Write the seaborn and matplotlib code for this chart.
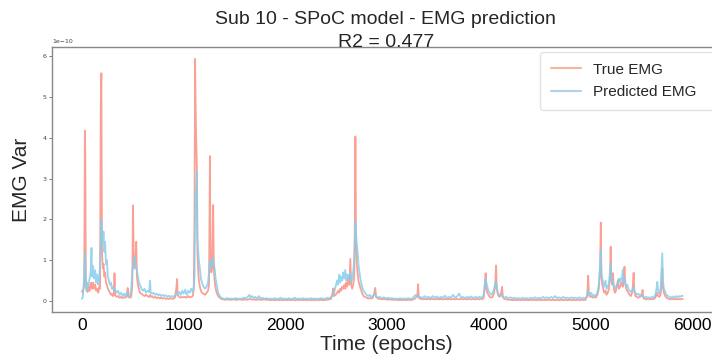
import numpy as np
import pandas as pd
import seaborn as sns
import matplotlib.pyplot as plt
from matplotlib.lines import Line2D

# --- DATA (valeurs en 1e-10) ---
epochs = [
    0, 8, 15, 22, 29, 33, 38, 45, 55, 65, 75, 85, 94, 100, 110, 120, 130, 140, 150, 160,
    170, 178, 185, 191, 197, 205, 212, 220, 228, 236, 245, 255, 265, 275, 285, 295, 305, 314, 320, 326,
    340, 355, 370, 385, 400, 415, 430, 443, 450, 457, 470, 485, 495, 502, 508, 515, 520, 527, 534, 540,
    550, 560, 570, 585, 600, 615, 630, 645, 660, 670, 676, 690, 705, 720, 735, 750, 765, 780, 795, 810,
    825, 840, 855, 870, 885, 900, 915, 928, 935, 942, 955, 970, 985, 1000, 1015, 1030, 1045, 1060, 1075, 1090,
    1100, 1107, 1113, 1118, 1123, 1130, 1136, 1142, 1150, 1160, 1170, 1180, 1195, 1210, 1225, 1240, 1250, 1259, 1265, 1272,
    1280, 1291, 1297, 1305, 1315, 1325, 1340, 1355, 1370, 1390, 1410, 1430, 1450, 1470, 1490, 1510, 1530, 1550, 1570, 1590,
    1610, 1630, 1647, 1660, 1675, 1690, 1705, 1720, 1740, 1755, 1775, 1795, 1815, 1835, 1855, 1875, 1895, 1915, 1935, 1955,
    1975, 1995, 2015, 2035, 2055, 2075, 2095, 2115, 2135, 2155, 2175, 2195, 2215, 2235, 2255, 2275, 2295, 2315, 2335, 2355,
    2375, 2395, 2415, 2435, 2450, 2465, 2472, 2480, 2495, 2510, 2520, 2530, 2540, 2550, 2560, 2570, 2580, 2590, 2600, 2610,
    2620, 2630, 2640, 2648, 2658, 2668, 2678, 2685, 2690, 2696, 2703, 2712, 2720, 2730, 2742, 2755, 2770, 2785, 2800, 2815,
    2830, 2845, 2860, 2872, 2885, 2893, 2910, 2930, 2950, 2970, 2990, 3010, 3030, 3050, 3070, 3090, 3110, 3130, 3150, 3170,
    3190, 3210, 3230, 3250, 3270, 3285, 3300, 3307, 3314, 3330, 3350, 3370, 3390, 3410, 3430, 3450, 3470, 3490, 3510, 3530,
    3550, 3570, 3590, 3610, 3630, 3650, 3670, 3690, 3710, 3730, 3750, 3770, 3790, 3810, 3830, 3850, 3870, 3890, 3910, 3930,
    3950, 3962, 3971, 3978, 3988, 3998, 4010, 4025, 4040, 4055, 4066, 4074, 4080, 4092, 4105, 4120, 4133, 4140, 4155, 4175,
    4195, 4215, 4235, 4255, 4275, 4295, 4315, 4335, 4355, 4375, 4395, 4415, 4435, 4455, 4475, 4495, 4515, 4535, 4555, 4575,
    4595, 4615, 4635, 4655, 4675, 4695, 4715, 4735, 4755, 4775, 4795, 4815, 4835, 4855, 4875, 4895, 4915, 4935, 4955, 4970,
    4980, 4987, 4998, 5010, 5025, 5040, 5055, 5070, 5085, 5097, 5104, 5110, 5118, 5128, 5138, 5150, 5160, 5172, 5185, 5194,
    5201, 5208, 5216, 5223, 5232, 5242, 5252, 5262, 5272, 5282, 5292, 5300, 5310, 5320, 5328, 5337, 5345, 5355, 5365, 5375,
    5388, 5400, 5412, 5420, 5427, 5434, 5445, 5458, 5472, 5486, 5500, 5508, 5515, 5522, 5535, 5550, 5565, 5580, 5595, 5610,
    5625, 5640, 5652, 5660, 5668, 5680, 5692, 5702, 5709, 5715, 5725, 5738, 5750, 5765, 5780, 5795, 5810, 5825, 5840, 5855,
    5870, 5885, 5900, 5910,
]

true_emg = [
    0.25, 0.20, 0.30, 0.35, 4.17, 3.55, 0.60, 0.30, 0.22, 0.35, 0.25, 0.40, 0.45, 0.30, 0.45, 0.30, 0.40, 0.25, 0.30, 0.20,
    0.35, 0.30, 4.80, 5.58, 1.20, 0.80, 0.90, 0.60, 0.70, 0.45, 0.40, 0.30, 0.25, 0.20, 0.15, 0.18, 0.12, 0.15, 0.68, 0.15,
    0.10, 0.12, 0.08, 0.10, 0.07, 0.09, 0.08, 0.15, 0.32, 0.10, 0.08, 0.10, 0.40, 2.34, 1.30, 0.80, 1.10, 0.90, 1.45, 0.60,
    0.40, 0.30, 0.20, 0.18, 0.15, 0.12, 0.15, 0.12, 0.10, 0.15, 0.10, 0.12, 0.08, 0.10, 0.07, 0.09, 0.06, 0.08, 0.06, 0.07,
    0.05, 0.06, 0.05, 0.07, 0.05, 0.06, 0.08, 0.30, 0.54, 0.15, 0.10, 0.08, 0.10, 0.09, 0.10, 0.08, 0.12, 0.09, 0.10, 0.12,
    0.30, 2.00, 5.93, 4.80, 4.03, 3.30, 1.20, 0.80, 0.50, 0.35, 0.25, 0.20, 0.18, 0.15, 0.20, 0.25, 0.40, 3.55, 1.00, 0.70,
    0.80, 2.35, 0.80, 0.50, 0.30, 0.20, 0.12, 0.08, 0.05, 0.04, 0.03, 0.04, 0.03, 0.03, 0.04, 0.03, 0.03, 0.04, 0.03, 0.03,
    0.04, 0.03, 0.05, 0.04, 0.03, 0.04, 0.03, 0.03, 0.04, 0.03, 0.03, 0.04, 0.03, 0.03, 0.02, 0.03, 0.02, 0.03, 0.02, 0.03,
    0.02, 0.03, 0.02, 0.03, 0.02, 0.03, 0.02, 0.03, 0.02, 0.03, 0.02, 0.03, 0.02, 0.03, 0.02, 0.03, 0.02, 0.03, 0.02, 0.03,
    0.02, 0.03, 0.03, 0.04, 0.05, 0.20, 0.31, 0.12, 0.15, 0.20, 0.25, 0.20, 0.30, 0.25, 0.35, 0.30, 0.40, 0.30, 0.45, 0.35,
    0.60, 0.40, 1.03, 0.40, 0.30, 0.40, 0.60, 2.00, 4.03, 1.50, 0.90, 0.70, 0.50, 0.40, 0.30, 0.20, 0.12, 0.10, 0.08, 0.06,
    0.07, 0.06, 0.08, 0.15, 0.32, 0.10, 0.06, 0.05, 0.04, 0.05, 0.04, 0.03, 0.04, 0.03, 0.03, 0.03, 0.02, 0.03, 0.02, 0.03,
    0.02, 0.03, 0.02, 0.03, 0.05, 0.08, 0.15, 0.41, 0.08, 0.05, 0.04, 0.05, 0.04, 0.05, 0.04, 0.05, 0.04, 0.05, 0.04, 0.05,
    0.04, 0.05, 0.04, 0.05, 0.04, 0.05, 0.04, 0.05, 0.04, 0.05, 0.04, 0.05, 0.04, 0.05, 0.04, 0.05, 0.04, 0.05, 0.04, 0.05,
    0.06, 0.30, 0.68, 0.30, 0.20, 0.15, 0.10, 0.08, 0.10, 0.20, 0.40, 0.87, 0.30, 0.15, 0.10, 0.15, 0.35, 0.10, 0.05, 0.04,
    0.03, 0.03, 0.02, 0.03, 0.02, 0.03, 0.02, 0.03, 0.02, 0.03, 0.02, 0.03, 0.02, 0.03, 0.02, 0.03, 0.02, 0.03, 0.02, 0.03,
    0.03, 0.02, 0.03, 0.02, 0.03, 0.02, 0.03, 0.02, 0.03, 0.02, 0.03, 0.02, 0.03, 0.02, 0.03, 0.02, 0.03, 0.02, 0.03, 0.15,
    0.62, 0.15, 0.10, 0.12, 0.08, 0.10, 0.08, 0.15, 0.30, 0.80, 1.92, 0.60, 0.40, 0.30, 0.20, 0.25, 0.15, 0.20, 0.30, 0.60,
    1.33, 0.50, 0.40, 0.68, 0.30, 0.20, 0.25, 0.35, 0.51, 0.30, 0.35, 0.40, 0.45, 0.35, 0.50, 0.84, 0.40, 0.30, 0.25, 0.20,
    0.15, 0.12, 0.20, 0.40, 0.69, 0.25, 0.12, 0.10, 0.08, 0.10, 0.12, 0.18, 0.27, 0.08, 0.05, 0.04, 0.05, 0.04, 0.05, 0.04,
    0.05, 0.08, 0.15, 0.20, 0.12, 0.10, 0.15, 0.40, 0.80, 0.35, 0.20, 0.12, 0.08, 0.06, 0.05, 0.04, 0.05, 0.04, 0.05, 0.04,
    0.05, 0.04, 0.05, 0.05,
]

pred_emg = [
    0.05, 0.10, 0.35, 0.60, 1.17, 0.90, 0.40, 0.25, 0.45, 0.38, 0.55, 0.70, 1.30, 0.60, 0.85, 0.55, 0.75, 0.45, 0.65, 0.40,
    0.55, 0.90, 1.50, 1.98, 1.60, 1.40, 1.70, 1.20, 1.45, 0.90, 1.00, 0.60, 0.50, 0.40, 0.45, 0.30, 0.35, 0.25, 0.30, 0.28,
    0.20, 0.25, 0.15, 0.20, 0.12, 0.18, 0.12, 0.20, 0.15, 0.10, 0.12, 0.30, 0.70, 0.90, 1.00, 0.95, 1.09, 0.80, 0.85, 0.75,
    0.60, 0.45, 0.40, 0.30, 0.25, 0.30, 0.20, 0.25, 0.22, 0.50, 0.20, 0.18, 0.20, 0.15, 0.18, 0.14, 0.16, 0.12, 0.15, 0.12,
    0.14, 0.10, 0.13, 0.10, 0.12, 0.10, 0.14, 0.15, 0.20, 0.18, 0.22, 0.15, 0.25, 0.18, 0.28, 0.15, 0.25, 0.20, 0.30, 0.22,
    0.35, 0.60, 2.00, 2.60, 2.80, 3.17, 1.50, 1.30, 1.00, 0.80, 0.55, 0.45, 0.35, 0.30, 0.35, 0.45, 0.70, 1.00, 0.80, 0.90,
    1.00, 1.05, 0.90, 0.80, 0.55, 0.40, 0.20, 0.12, 0.08, 0.06, 0.05, 0.07, 0.05, 0.06, 0.05, 0.07, 0.05, 0.06, 0.05, 0.08,
    0.06, 0.10, 0.15, 0.08, 0.12, 0.07, 0.10, 0.06, 0.12, 0.06, 0.08, 0.05, 0.07, 0.05, 0.06, 0.05, 0.07, 0.05, 0.06, 0.08,
    0.05, 0.06, 0.05, 0.07, 0.05, 0.06, 0.08, 0.05, 0.06, 0.05, 0.07, 0.05, 0.06, 0.05, 0.07, 0.05, 0.06, 0.05, 0.06, 0.07,
    0.05, 0.06, 0.08, 0.06, 0.10, 0.12, 0.15, 0.20, 0.35, 0.50, 0.40, 0.65, 0.45, 0.60, 0.50, 0.70, 0.55, 0.76, 0.50, 0.65,
    0.55, 0.60, 0.70, 0.45, 0.55, 0.70, 1.00, 1.50, 1.94, 1.70, 1.40, 1.20, 0.90, 0.70, 0.50, 0.35, 0.25, 0.20, 0.15, 0.12,
    0.15, 0.10, 0.12, 0.15, 0.18, 0.12, 0.08, 0.10, 0.07, 0.09, 0.06, 0.08, 0.06, 0.07, 0.05, 0.06, 0.05, 0.07, 0.05, 0.06,
    0.05, 0.07, 0.05, 0.06, 0.12, 0.15, 0.12, 0.10, 0.08, 0.10, 0.07, 0.12, 0.08, 0.10, 0.07, 0.12, 0.08, 0.11, 0.07, 0.10,
    0.08, 0.13, 0.07, 0.10, 0.08, 0.15, 0.08, 0.11, 0.18, 0.08, 0.10, 0.07, 0.10, 0.08, 0.11, 0.07, 0.10, 0.08, 0.10, 0.08,
    0.12, 0.40, 0.55, 0.45, 0.35, 0.25, 0.20, 0.15, 0.20, 0.30, 0.45, 0.47, 0.35, 0.20, 0.15, 0.12, 0.15, 0.10, 0.08, 0.10,
    0.07, 0.09, 0.06, 0.08, 0.06, 0.07, 0.05, 0.08, 0.06, 0.07, 0.05, 0.08, 0.06, 0.09, 0.06, 0.08, 0.06, 0.10, 0.07, 0.09,
    0.06, 0.10, 0.07, 0.12, 0.07, 0.09, 0.06, 0.10, 0.07, 0.08, 0.06, 0.09, 0.07, 0.08, 0.06, 0.09, 0.06, 0.08, 0.07, 0.10,
    0.25, 0.20, 0.15, 0.20, 0.12, 0.15, 0.12, 0.20, 0.40, 0.90, 1.25, 0.70, 0.55, 0.45, 0.35, 0.50, 0.30, 0.35, 0.45, 0.70,
    0.92, 0.60, 0.45, 0.50, 0.35, 0.30, 0.35, 0.40, 0.42, 0.55, 0.45, 0.55, 0.50, 0.76, 0.45, 0.55, 0.45, 0.35, 0.40, 0.30,
    0.25, 0.22, 0.25, 0.30, 0.35, 0.25, 0.20, 0.15, 0.18, 0.14, 0.15, 0.12, 0.14, 0.10, 0.09, 0.10, 0.08, 0.09, 0.07, 0.10,
    0.08, 0.15, 0.30, 0.47, 0.25, 0.18, 0.30, 0.80, 1.17, 0.50, 0.30, 0.22, 0.15, 0.12, 0.10, 0.08, 0.11, 0.08, 0.12, 0.09,
    0.12, 0.10, 0.13, 0.12,
]

title = "Sub 10 - SPoC model - EMG prediction\nR2 = 0.477"

df = pd.DataFrame({
    "epoch": epochs,
    "true": np.array(true_emg) * 1e-10,
    "pred": np.array(pred_emg) * 1e-10,
})

sns.set_style("white")
plt.rcParams['font.family'] = ['Liberation Sans', 'DejaVu Sans']

fig = plt.figure(figsize=(7.12, 3.58), dpi=100)
# l'axe depasse a droite (image recadree)
ax = fig.add_axes([0.073, 0.1285, 0.938, 0.740])

sns.lineplot(data=df, x="epoch", y="true", color="salmon", alpha=0.75, linewidth=1.3, ax=ax)
sns.lineplot(data=df, x="epoch", y="pred", color="skyblue", alpha=0.85, linewidth=1.3, ax=ax)

ax.set_xlim(-295, 6275)
ax.set_ylim(-0.27e-10, 6.22e-10)

for s in ax.spines.values():
    s.set_color("#888888")
    s.set_linewidth(1.0)

ax.tick_params(axis="y", labelsize=4.5, length=2, width=0.5, left=True, colors="#444444", pad=2)
ax.tick_params(axis="x", labelsize=12.5, length=0, labelcolor="black", pad=4)
ax.yaxis.get_offset_text().set_fontsize(4.5)
ax.yaxis.get_offset_text().set_family('DejaVu Sans')
for lab in ax.get_yticklabels():
    lab.set_family('DejaVu Sans')

ax.set_xlabel("Time (epochs)", fontsize=15, labelpad=2)
ax.set_ylabel("EMG Var", fontsize=15, labelpad=8)
t = ax.set_title(title, fontsize=14, pad=0)
t.set_linespacing(1.45)

handles = [Line2D([0], [0], color="#f9b49c", lw=1.5),
           Line2D([0], [0], color="#b3cfe9", lw=1.5)]
leg = ax.legend(handles, ["True EMG", "Predicted EMG"], loc="upper left",
                bbox_to_anchor=(0.7305, 0.5, 0.3, 0.481), mode="expand",
                fontsize=11, frameon=True, fancybox=True, borderaxespad=0,
                borderpad=0.7, labelspacing=0.55)
leg.get_frame().set_edgecolor("#dddddd")

fig.savefig("out.png", dpi=100)
